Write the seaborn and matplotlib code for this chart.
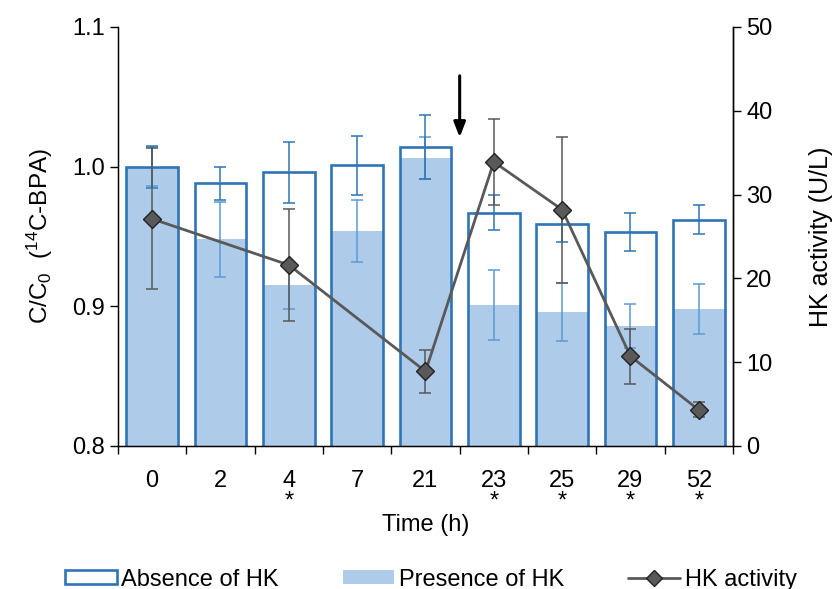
import numpy as np
import pandas as pd
import matplotlib.pyplot as plt
import seaborn as sns
from matplotlib.patches import Patch
from matplotlib.lines import Line2D

# data
times = ['0', '2', '4', '7', '21', '23', '25', '29', '52']
stars = ['', '', '*', '', '', '*', '*', '*', '*']

absence = [1.000, 0.988, 0.996, 1.001, 1.014, 0.967, 0.959, 0.953, 0.962]
absence_err = [0.015, 0.012, 0.022, 0.021, 0.023, 0.0125, 0.013, 0.0135, 0.0105]
presence = [1.000, 0.948, 0.915, 0.954, 1.006, 0.901, 0.896, 0.886, 0.898]
presence_err = [0.014, 0.027, 0.017, 0.022, 0.015, 0.025, 0.021, 0.016, 0.018]

hk = [27.1, np.nan, 21.6, np.nan, 8.9, 33.9, 28.2, 10.7, 4.3]
hk_err = [8.4, np.nan, 6.7, np.nan, 2.6, 5.1, 8.7, 3.3, 0.9]

BLUE = '#2e75b6'
LIGHT = '#aecce9'
ERR_LIGHT = '#5b9bd5'
GRAY = '#595959'

sns.set_style('ticks')
plt.rcParams['font.family'] = ['Liberation Sans', 'DejaVu Sans']
plt.rcParams['mathtext.fontset'] = 'custom'
plt.rcParams['mathtext.rm'] = 'Liberation Sans'
plt.rcParams['mathtext.default'] = 'regular'
for key in ['text.color', 'axes.labelcolor', 'xtick.color', 'ytick.color', 'axes.edgecolor']:
    plt.rcParams[key] = 'black'

df = pd.DataFrame({'time': times, 'absence': absence, 'absence_err': absence_err,
                   'presence': presence, 'presence_err': presence_err,
                   'hk': hk, 'hk_err': hk_err})
df['pos'] = np.arange(len(df))

fig = plt.figure(figsize=(8.38, 5.89), dpi=100)
ax = fig.add_axes([0.1408, 0.2428, 0.7339, 0.7114])

# filled bars (presence of HK), outline bars (absence of HK) on top
sns.barplot(data=df, x='time', y='presence', color=LIGHT, saturation=1,
            width=0.76, linewidth=0, errorbar=None, ax=ax)
ax.errorbar(df['pos'], df['presence'], yerr=df['presence_err'], fmt='none',
            ecolor=ERR_LIGHT, elinewidth=1.1, capsize=4.5, capthick=1.1, zorder=3)
sns.barplot(data=df, x='time', y='absence', color=BLUE, saturation=1, fill=False,
            width=0.76, linewidth=1.9, errorbar=None, ax=ax)
ax.errorbar(df['pos'], df['absence'], yerr=df['absence_err'], fmt='none',
            ecolor=BLUE, elinewidth=1.1, capsize=4.5, capthick=1.1, zorder=3)

ax.set_xlim(-0.5, len(times) - 0.5)
ax.set_ylim(0.8, 1.1)
ax.set_yticks([0.8, 0.9, 1.0, 1.1])
ax.set_yticklabels(['0.8', '0.9', '1.0', '1.1'])

# ticks between the categories, labels under the centres
ax.set_xticks(np.arange(-0.5, len(times)), labels=[''] * (len(times) + 1))
ax.set_xticks(df['pos'], labels=[t if s == '' else t + '\n' + s for t, s in zip(times, stars)],
              minor=True)
ax.tick_params(axis='x', which='minor', length=0, pad=17, labelsize=17)
ax.tick_params(axis='x', which='major', length=6, width=1, direction='out')
ax.tick_params(axis='y', length=6, width=1, direction='out', labelsize=17)
for lab in ax.get_xticklabels(minor=True):
    lab.set_linespacing(0.95)
    lab.set_verticalalignment('top')

ax.set_xlabel('Time (h)', fontsize=17, labelpad=1)
ax.set_ylabel(r'C/C$_0$  ($^{14}$C-BPA)', fontsize=17.5, labelpad=12)
for side in ['left', 'bottom', 'right']:
    ax.spines[side].set_color('black')
    ax.spines[side].set_linewidth(1)
ax.spines['top'].set_visible(False)

# arrow between 21 h and 23 h
ax.annotate('', xy=(4.5, 1.019), xytext=(4.5, 1.067),
            arrowprops=dict(arrowstyle='-|>,head_length=0.9,head_width=0.35',
                            color='black', lw=2.2))

# HK activity on the right axis
ax2 = ax.twinx()
hk_df = df.dropna(subset=['hk'])
ax2.errorbar(hk_df['pos'], hk_df['hk'], yerr=hk_df['hk_err'], fmt='none',
             ecolor=GRAY, elinewidth=1.1, capsize=4.5, capthick=1.1, zorder=2)
sns.lineplot(data=hk_df, x='pos', y='hk', color=GRAY, lw=2, marker='D', markersize=9,
             markerfacecolor=GRAY, markeredgecolor='#222222', markeredgewidth=1,
             ax=ax2, zorder=3)
ax2.set_ylim(0, 50)
ax2.set_yticks([0, 10, 20, 30, 40, 50])
ax2.set_xlim(-0.5, len(times) - 0.5)
ax2.set_xlabel('')
ax2.set_ylabel('HK activity (U/L)', fontsize=18, labelpad=26)
ax2.tick_params(axis='y', length=6, width=1, direction='out', labelsize=17)
ax2.spines['top'].set_visible(False)
ax2.spines['right'].set_linewidth(1)
ax2.spines['right'].set_color('black')

handles = [Patch(facecolor='white', edgecolor=BLUE, linewidth=1.9),
           Patch(facecolor=LIGHT, edgecolor='none'),
           Line2D([], [], color=GRAY, lw=2, marker='D', markersize=8,
                  markerfacecolor=GRAY, markeredgecolor='#222222')]
fig.legend(handles, ['Absence of HK', 'Presence of HK', 'HK activity'],
           loc='center', bbox_to_anchor=(0.514, 0.016), ncol=3, frameon=False,
           fontsize=17, handlelength=2.2, handleheight=0.5, handletextpad=0.2,
           columnspacing=2.7)

fig.savefig('out.png', dpi=100)
